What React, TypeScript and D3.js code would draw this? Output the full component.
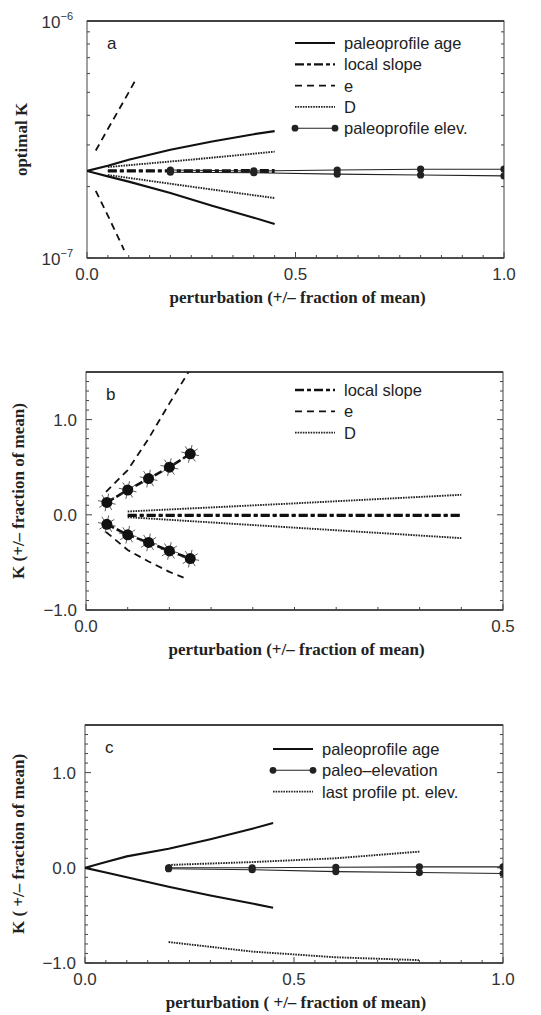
import React from 'react'
import * as d3 from 'd3'

// ---- panel a: optimal K (log) ----
const aAgeX = [0, 0.05, 0.1, 0.2, 0.3, 0.4, 0.45]
const aAgeHi = [2.33e-7, 2.45e-7, 2.6e-7, 2.86e-7, 3.1e-7, 3.33e-7, 3.43e-7]
const aAgeLo = [2.33e-7, 2.21e-7, 2.1e-7, 1.88e-7, 1.66e-7, 1.48e-7, 1.39e-7]
const aSlopeX = [0.05, 0.25, 0.45]
const aSlopeHi = [2.34e-7, 2.34e-7, 2.35e-7]
const aSlopeLo = [2.32e-7, 2.32e-7, 2.31e-7]
const aEHiX = [0.021, 0.05, 0.075, 0.1, 0.115]
const aEHi = [2.84e-7, 3.5e-7, 4.18e-7, 5.0e-7, 5.58e-7]
const aELoX = [0.021, 0.05, 0.075, 0.089]
const aELo = [1.92e-7, 1.51e-7, 1.22e-7, 1.08e-7]
const aDX = [0.05, 0.25, 0.45]
const aDHi = [2.42e-7, 2.6e-7, 2.81e-7]
const aDLo = [2.24e-7, 2.0e-7, 1.79e-7]
const aElevX = [0.2, 0.4, 0.6, 0.8, 1.0]
const aElevHi = [2.35e-7, 2.33e-7, 2.35e-7, 2.37e-7, 2.37e-7]
const aElevLo = [2.3e-7, 2.29e-7, 2.26e-7, 2.24e-7, 2.22e-7]

// ---- panel b: K relative, zoom ----
const bSlopeX = [0.05, 0.25, 0.45]
const bSlopeHi = [0.0, 0.0, 0.0]
const bSlopeLo = [-0.01, -0.01, -0.01]
const bEHiX = [0.024, 0.05, 0.075, 0.1, 0.125]
const bEHi = [0.24, 0.47, 0.8, 1.17, 1.53]
const bELoX = [0.024, 0.05, 0.075, 0.1, 0.117]
const bELo = [-0.18, -0.37, -0.49, -0.6, -0.66]
const bDX = [0.05, 0.25, 0.45]
const bDHi = [0.035, 0.12, 0.21]
const bDLo = [-0.025, -0.135, -0.245]
const bStarX = [0.025, 0.05, 0.075, 0.1, 0.125]
const bStarHi = [0.13, 0.26, 0.38, 0.5, 0.64]
const bStarLo = [-0.1, -0.21, -0.29, -0.38, -0.46]

// ---- panel c ----
const cAgeX = [0, 0.05, 0.1, 0.2, 0.3, 0.4, 0.45]
const cAgeHi = [0, 0.06, 0.12, 0.2, 0.3, 0.41, 0.47]
const cAgeLo = [0, -0.05, -0.1, -0.2, -0.29, -0.375, -0.42]
const cElevX = [0.2, 0.4, 0.6, 0.8, 1.0]
const cElevHi = [0.0, 0.0, 0.005, 0.01, 0.01]
const cElevLo = [-0.01, -0.02, -0.04, -0.05, -0.06]
const cLastX = [0.2, 0.4, 0.6, 0.8]
const cLastHi = [0.03, 0.06, 0.1, 0.17]
const cLastLo = [-0.78, -0.88, -0.94, -0.97]

// tick labels
const xTicksFull = [0, 0.5, 1]
const xLabelsFull = ['0.0', '0.5', '1.0']
const xTicksHalf = [0, 0.5]
const xLabelsHalf = ['0.0', '0.5']
const yTicksLog = [1e-7, 1e-6]
const yLabelsLog = ['−7', '−6']
const yTicksRel = [-1, 0, 1]
const yLabelsRel = ['−1.0', '0.0', '1.0']

const STY = {
  age: { stroke: '#111', width: 2.1, dash: undefined },
  slope: { stroke: '#111', width: 2.3, dash: '9,3,4,3' },
  e: { stroke: '#111', width: 1.8, dash: '7,5' },
  D: { stroke: '#222', width: 1.9, dash: '1.6,1' },
  elev: { stroke: '#222', width: 1.1, dash: undefined },
  star: { stroke: '#111', width: 2.6, dash: '8,3' },
}

const SANS = 'Liberation Sans, Arial, sans-serif'
const SERIF = 'Liberation Serif, Times New Roman, serif'

const Star = ({ cx, cy }) => (
  <g>
    {d3.range(8).map(i => {
      const a = (i * Math.PI) / 4 + 0.2
      return <line key={i} x1={cx} y1={cy} x2={cx + 9 * Math.cos(a)} y2={cy + 9 * Math.sin(a)} stroke="#333" strokeWidth={0.8} />
    })}
    <circle cx={cx} cy={cy} r={5.5} fill="#111" />
  </g>
)

function Panel({ id, box, xDomain, log, series, legend, legendBox, letter, yTitle, xTitle, xTicks, xLabels, yTicks, yLabels }) {
  const x = d3.scaleLinear().domain(xDomain).range([box.left, box.right])
  const y = log
    ? d3.scaleLog().domain([1e-7, 1e-6]).range([box.bottom, box.top])
    : d3.scaleLinear().domain([-1, 1.5]).range([box.bottom, box.top])
  const line = d3.line().x(d => x(d[0])).y(d => y(d[1]))
  const minorX = x.ticks(xDomain[1] > 0.6 ? 20 : 10)
  const minorY = log ? y.ticks() : y.ticks(25)
  const tick = (len, major) => major ? len * 2 : len
  const isMajorX = v => xTicks.some(t => Math.abs(t - v) < 1e-9)
  const isMajorY = v => yTicks.some(t => Math.abs(t - v) < 1e-12)

  return (
    <g>
      <defs>
        <clipPath id={id}>
          <rect x={box.left} y={box.top} width={box.right - box.left} height={box.bottom - box.top} />
        </clipPath>
      </defs>
      {/* frame */}
      <rect x={box.left} y={box.top} width={box.right - box.left} height={box.bottom - box.top} fill="none" stroke="#555" strokeWidth={1.1} />
      <line x1={box.left} x2={box.right} y1={box.top} y2={box.top} stroke="#222" strokeWidth={1.6} />
      <line x1={box.left} x2={box.right} y1={box.bottom} y2={box.bottom} stroke="#333" strokeWidth={1.4} />
      {minorX.map((v, i) => (
        <line key={'x' + i} x1={x(v)} x2={x(v)} y1={box.bottom} y2={box.bottom - tick(3, isMajorX(v))} stroke="#444" strokeWidth={1} />
      ))}
      {minorY.map((v, i) => (
        <g key={'y' + i}>
          <line x1={box.left} x2={box.left + tick(3, isMajorY(v))} y1={y(v)} y2={y(v)} stroke="#444" strokeWidth={1} />
          <line x1={box.right} x2={box.right - tick(3, isMajorY(v))} y1={y(v)} y2={y(v)} stroke="#444" strokeWidth={1} />
        </g>
      ))}
      {/* tick labels */}
      {xTicks.map((v, i) => (
        <text key={'xl' + i} x={x(v)} y={box.bottom + 22} textAnchor="middle" fontFamily={SANS} fontSize={17} fill="#333">{xLabels[i]}</text>
      ))}
      {yTicks.map((v, i) =>
        log ? (
          <text key={'yl' + i} x={box.left - 14} y={y(v) + 7} textAnchor="end" fontFamily={SANS} fontSize={17} fill="#333">
            10<tspan dy={-8} fontSize={11}>{yLabels[i]}</tspan>
          </text>
        ) : (
          <text key={'yl' + i} x={box.left - 9} y={y(v) + 6} textAnchor="end" fontFamily={SANS} fontSize={17} fill="#333">{yLabels[i]}</text>
        )
      )}
      {/* titles */}
      <text x={(box.left + box.right) / 2 + 2} y={box.bottom + 45} textAnchor="middle" fontFamily={SERIF} fontWeight="bold" fontSize={17} fill="#222">{xTitle}</text>
      <text transform={`translate(${log ? 27 : 24},${(box.top + box.bottom) / 2}) rotate(-90)`} textAnchor="middle" fontFamily={SERIF} fontWeight="bold" fontSize={17} fill="#222">{yTitle}</text>
      <text x={box.left + 20} y={box.top + 28} fontFamily={SANS} fontSize={17} fill="#222">{letter}</text>

      {/* data */}
      <g clipPath={`url(#${id})`}>
        {series.map((s, i) => {
          const st = STY[s.style]
          const pts = s.x.map((v, j) => [v, s.y[j]])
          return (
            <g key={'s' + i}>
              <path d={line(pts)} fill="none" stroke={st.stroke} strokeWidth={st.width} strokeDasharray={st.dash} />
              {s.style === 'elev' && pts.map((p, j) => <circle key={j} cx={x(p[0])} cy={y(p[1])} r={3.6} fill="#222" />)}
              {s.style === 'star' && pts.map((p, j) => <Star key={j} cx={x(p[0])} cy={y(p[1])} />)}
            </g>
          )
        })}
      </g>

      {/* legend */}
      {legend.map((l, i) => {
        const st = STY[l.style]
        const ly = legendBox.y + i * 21.3
        return (
          <g key={'lg' + i}>
            <line x1={legendBox.x} x2={legendBox.x + 40} y1={ly} y2={ly} stroke={st.stroke} strokeWidth={st.width} strokeDasharray={st.dash} />
            {l.style === 'elev' && (
              <>
                <circle cx={legendBox.x} cy={ly} r={3.4} fill="#222" />
                <circle cx={legendBox.x + 40} cy={ly} r={3.4} fill="#222" />
              </>
            )}
            <text x={legendBox.x + 49} y={ly + 6} fontFamily={SANS} fontSize={16.5} fill="#222">{l.label}</text>
          </g>
        )
      })}
    </g>
  )
}

export default function App() {
  const seriesA = [
    { x: aAgeX, y: aAgeHi, style: 'age' },
    { x: aAgeX, y: aAgeLo, style: 'age' },
    { x: aSlopeX, y: aSlopeHi, style: 'slope' },
    { x: aSlopeX, y: aSlopeLo, style: 'slope' },
    { x: aEHiX, y: aEHi, style: 'e' },
    { x: aELoX, y: aELo, style: 'e' },
    { x: aDX, y: aDHi, style: 'D' },
    { x: aDX, y: aDLo, style: 'D' },
    { x: aElevX, y: aElevHi, style: 'elev' },
    { x: aElevX, y: aElevLo, style: 'elev' },
  ]
  const seriesB = [
    { x: bEHiX, y: bEHi, style: 'e' },
    { x: bELoX, y: bELo, style: 'e' },
    { x: bDX, y: bDHi, style: 'D' },
    { x: bDX, y: bDLo, style: 'D' },
    { x: bSlopeX, y: bSlopeHi, style: 'slope' },
    { x: bSlopeX, y: bSlopeLo, style: 'slope' },
    { x: bStarX, y: bStarHi, style: 'star' },
    { x: bStarX, y: bStarLo, style: 'star' },
  ]
  const seriesC = [
    { x: cAgeX, y: cAgeHi, style: 'age' },
    { x: cAgeX, y: cAgeLo, style: 'age' },
    { x: cLastX, y: cLastHi, style: 'D' },
    { x: cLastX, y: cLastLo, style: 'D' },
    { x: cElevX, y: cElevHi, style: 'elev' },
    { x: cElevX, y: cElevLo, style: 'elev' },
  ]

  return (
    <svg width={541} height={1015} style={{ position: 'absolute', left: 0, top: 0, background: '#fff' }}>
      <rect width={541} height={1015} fill="#fff" />
      <Panel
        id="clipA"
        box={{ left: 87, right: 504, top: 21, bottom: 258 }}
        xDomain={[0, 1]}
        log={true}
        series={seriesA}
        legend={[
          { label: 'paleoprofile age', style: 'age' },
          { label: 'local slope', style: 'slope' },
          { label: 'e', style: 'e' },
          { label: 'D', style: 'D' },
          { label: 'paleoprofile elev.', style: 'elev' },
        ]}
        legendBox={{ x: 295, y: 43 }}
        letter="a"
        yTitle="optimal K"
        xTitle="perturbation (+/– fraction of mean)"
        xTicks={xTicksFull}
        xLabels={xLabelsFull}
        yTicks={yTicksLog}
        yLabels={yLabelsLog}
      />
      <Panel
        id="clipB"
        box={{ left: 86, right: 503, top: 372, bottom: 610 }}
        xDomain={[0, 0.5]}
        log={false}
        series={seriesB}
        legend={[
          { label: 'local slope', style: 'slope' },
          { label: 'e', style: 'e' },
          { label: 'D', style: 'D' },
        ]}
        legendBox={{ x: 295, y: 390 }}
        letter="b"
        yTitle="K (+/– fraction of mean)"
        xTitle="perturbation (+/– fraction of mean)"
        xTicks={xTicksHalf}
        xLabels={xLabelsHalf}
        yTicks={yTicksRel}
        yLabels={yLabelsRel}
      />
      <Panel
        id="clipC"
        box={{ left: 85, right: 503, top: 725, bottom: 963 }}
        xDomain={[0, 1]}
        log={false}
        series={seriesC}
        legend={[
          { label: 'paleoprofile age', style: 'age' },
          { label: 'paleo–elevation', style: 'elev' },
          { label: 'last profile pt. elev.', style: 'D' },
        ]}
        legendBox={{ x: 273, y: 749 }}
        letter="c"
        yTitle="K ( +/– fraction of mean)"
        xTitle="perturbation ( +/– fraction of mean)"
        xTicks={xTicksFull}
        xLabels={xLabelsFull}
        yTicks={yTicksRel}
        yLabels={yLabelsRel}
      />
    </svg>
  )
}
